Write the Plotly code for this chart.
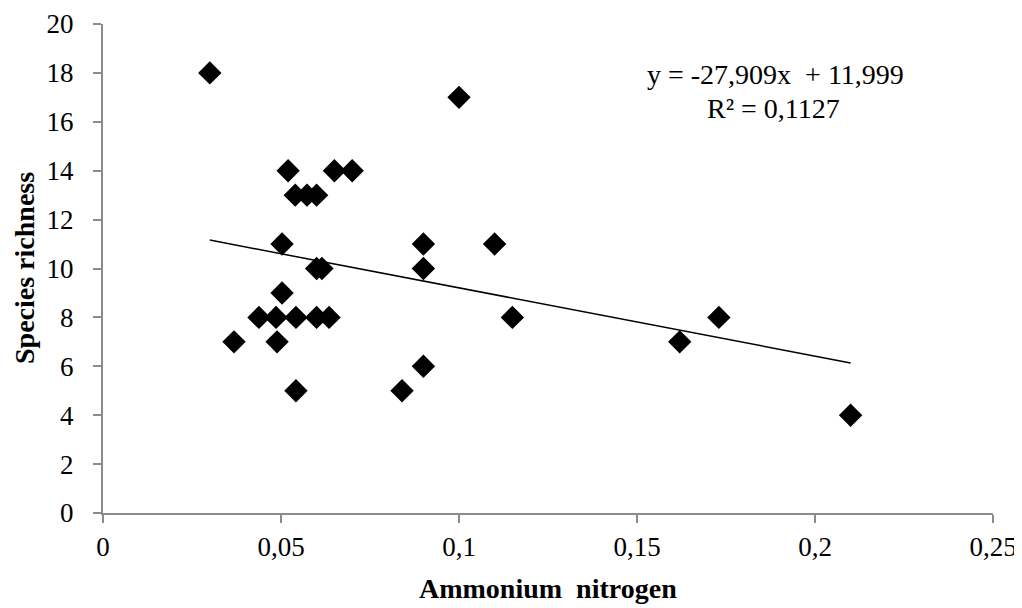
import plotly.graph_objects as go

ammonium = [0.030, 0.0368, 0.0438, 0.0486, 0.0489, 0.0503, 0.0503, 0.052, 0.0542, 0.0542,
            0.054, 0.0573, 0.060, 0.060, 0.0615, 0.060, 0.0635, 0.065, 0.070, 0.084,
            0.090, 0.090, 0.090, 0.100, 0.110, 0.115, 0.162, 0.173, 0.210]
richness = [18, 7, 8, 8, 7, 11, 9, 14, 8, 5,
            13, 13, 13, 10, 10, 8, 8, 14, 14, 5,
            11, 10, 6, 17, 11, 8, 7, 8, 4]
slope = -27.909
intercept = 11.999
r2_text = "R² = 0,1127"
eq_text = "y = -27,909x&nbsp; + 11,999"
x_title = "<b>Ammonium&nbsp; nitrogen</b>"
y_title = "<b>Species richness</b>"
x_ticks = [0, 0.05, 0.1, 0.15, 0.2, 0.25]
x_tick_labels = ["0", "0,05", "0,1", "0,15", "0,2", "0,25"]
y_ticks = list(range(0, 21, 2))

xmin, xmax = min(ammonium), max(ammonium)
trend_x = [xmin, xmax]
trend_y = [slope * v + intercept for v in trend_x]

fig = go.Figure()
fig.add_trace(go.Scatter(x=trend_x, y=trend_y, mode="lines",
                         line=dict(color="black", width=1.5), showlegend=False,
                         hoverinfo="skip"))
fig.add_trace(go.Scatter(x=ammonium, y=richness, mode="markers",
                         marker=dict(symbol="diamond", size=18, color="black",
                                     line=dict(width=0)),
                         showlegend=False))

font_family = "Liberation Serif, Times New Roman, serif"
axis_common = dict(showgrid=False, zeroline=False, showline=True, automargin=False,
                   linecolor="#8c8c8c", linewidth=2, ticks="outside",
                   ticklen=8, tickwidth=2, tickcolor="#8c8c8c",
                   tickfont=dict(family=font_family, size=27, color="black"))

W, H = 1014, 600
L, R, T, B = 95, 29, 16, 95

fig.update_layout(
    width=W, height=H,
    margin=dict(l=L, r=R, t=T, b=B),
    paper_bgcolor="white", plot_bgcolor="white",
    font=dict(family=font_family, color="black"),
    xaxis=dict(range=[0, 0.25], tickvals=x_ticks, ticktext=x_tick_labels,
               ticklabelstandoff=1, **axis_common),
    yaxis=dict(range=[0, 20], tickvals=y_ticks, ticklabelstandoff=14,
               **axis_common),
)

pw = W - L - R
ph = H - T - B
# text centres given in page pixels (figure offset 8px by page margin)
texts = [(eq_text, 775, 75, 0), (r2_text, 773, 108, 0),
         (x_title, 548, 588, 0), (y_title, 24, 268, -90)]
for txt, cx, cy, ang in texts:
    fig.add_annotation(x=(cx - 8 - L) / pw, y=1 - (cy - 8 - T) / ph,
                       xref="paper", yref="paper", text=txt, showarrow=False,
                       xanchor="center", yanchor="middle", textangle=ang,
                       font=dict(family=font_family, size=28, color="black"))

fig.write_html("out.html")
